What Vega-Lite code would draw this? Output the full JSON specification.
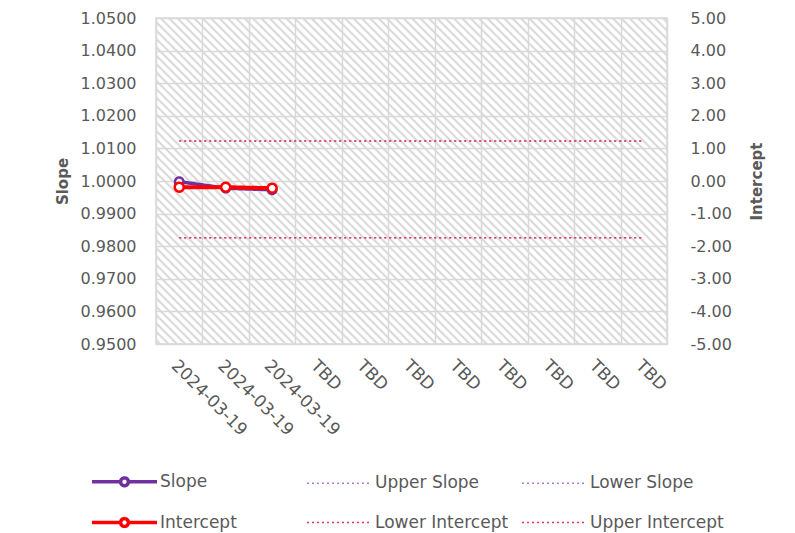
{
  "$schema": "https://vega.github.io/schema/vega-lite/v6.json",
  "width": 511,
  "height": 326,
  "autosize": {"type": "none"},
  "padding": {"left": 156, "top": 18, "right": 128, "bottom": 189},
  "background": "white",
  "config": {
    "font": "DejaVu Sans",
    "view": {
      "stroke": "#d9d9d9",
      "strokeWidth": 1.5,
      "fill": {
        "gradient": "linear", "x1": 0, "y1": 1, "x2": 1.164, "y2": 0.257,
        "stops": [
{"offset":0.002,"color":"#fff"},{"offset":0.005,"color":"#d2d2d2"},{"offset":0.008,"color":"#fff"},
{"offset":0.012,"color":"#fff"},{"offset":0.015,"color":"#d2d2d2"},{"offset":0.018,"color":"#fff"},
{"offset":0.022,"color":"#fff"},{"offset":0.025,"color":"#d2d2d2"},{"offset":0.028,"color":"#fff"},
{"offset":0.032,"color":"#fff"},{"offset":0.035,"color":"#d2d2d2"},{"offset":0.038,"color":"#fff"},
{"offset":0.042,"color":"#fff"},{"offset":0.045,"color":"#d2d2d2"},{"offset":0.048,"color":"#fff"},
{"offset":0.052,"color":"#fff"},{"offset":0.055,"color":"#d2d2d2"},{"offset":0.058,"color":"#fff"},
{"offset":0.062,"color":"#fff"},{"offset":0.065,"color":"#d2d2d2"},{"offset":0.068,"color":"#fff"},
{"offset":0.072,"color":"#fff"},{"offset":0.075,"color":"#d2d2d2"},{"offset":0.078,"color":"#fff"},
{"offset":0.082,"color":"#fff"},{"offset":0.085,"color":"#d2d2d2"},{"offset":0.088,"color":"#fff"},
{"offset":0.092,"color":"#fff"},{"offset":0.095,"color":"#d2d2d2"},{"offset":0.098,"color":"#fff"},
{"offset":0.102,"color":"#fff"},{"offset":0.105,"color":"#d2d2d2"},{"offset":0.108,"color":"#fff"},
{"offset":0.112,"color":"#fff"},{"offset":0.115,"color":"#d2d2d2"},{"offset":0.118,"color":"#fff"},
{"offset":0.122,"color":"#fff"},{"offset":0.125,"color":"#d2d2d2"},{"offset":0.128,"color":"#fff"},
{"offset":0.132,"color":"#fff"},{"offset":0.135,"color":"#d2d2d2"},{"offset":0.138,"color":"#fff"},
{"offset":0.142,"color":"#fff"},{"offset":0.145,"color":"#d2d2d2"},{"offset":0.148,"color":"#fff"},
{"offset":0.152,"color":"#fff"},{"offset":0.155,"color":"#d2d2d2"},{"offset":0.158,"color":"#fff"},
{"offset":0.162,"color":"#fff"},{"offset":0.165,"color":"#d2d2d2"},{"offset":0.168,"color":"#fff"},
{"offset":0.172,"color":"#fff"},{"offset":0.175,"color":"#d2d2d2"},{"offset":0.178,"color":"#fff"},
{"offset":0.182,"color":"#fff"},{"offset":0.185,"color":"#d2d2d2"},{"offset":0.188,"color":"#fff"},
{"offset":0.192,"color":"#fff"},{"offset":0.195,"color":"#d2d2d2"},{"offset":0.198,"color":"#fff"},
{"offset":0.202,"color":"#fff"},{"offset":0.205,"color":"#d2d2d2"},{"offset":0.208,"color":"#fff"},
{"offset":0.212,"color":"#fff"},{"offset":0.215,"color":"#d2d2d2"},{"offset":0.218,"color":"#fff"},
{"offset":0.222,"color":"#fff"},{"offset":0.225,"color":"#d2d2d2"},{"offset":0.228,"color":"#fff"},
{"offset":0.232,"color":"#fff"},{"offset":0.235,"color":"#d2d2d2"},{"offset":0.238,"color":"#fff"},
{"offset":0.242,"color":"#fff"},{"offset":0.245,"color":"#d2d2d2"},{"offset":0.248,"color":"#fff"},
{"offset":0.252,"color":"#fff"},{"offset":0.255,"color":"#d2d2d2"},{"offset":0.258,"color":"#fff"},
{"offset":0.262,"color":"#fff"},{"offset":0.265,"color":"#d2d2d2"},{"offset":0.268,"color":"#fff"},
{"offset":0.272,"color":"#fff"},{"offset":0.275,"color":"#d2d2d2"},{"offset":0.278,"color":"#fff"},
{"offset":0.282,"color":"#fff"},{"offset":0.285,"color":"#d2d2d2"},{"offset":0.288,"color":"#fff"},
{"offset":0.292,"color":"#fff"},{"offset":0.295,"color":"#d2d2d2"},{"offset":0.298,"color":"#fff"},
{"offset":0.302,"color":"#fff"},{"offset":0.305,"color":"#d2d2d2"},{"offset":0.308,"color":"#fff"},
{"offset":0.312,"color":"#fff"},{"offset":0.315,"color":"#d2d2d2"},{"offset":0.318,"color":"#fff"},
{"offset":0.322,"color":"#fff"},{"offset":0.325,"color":"#d2d2d2"},{"offset":0.328,"color":"#fff"},
{"offset":0.332,"color":"#fff"},{"offset":0.335,"color":"#d2d2d2"},{"offset":0.338,"color":"#fff"},
{"offset":0.342,"color":"#fff"},{"offset":0.345,"color":"#d2d2d2"},{"offset":0.348,"color":"#fff"},
{"offset":0.352,"color":"#fff"},{"offset":0.355,"color":"#d2d2d2"},{"offset":0.358,"color":"#fff"},
{"offset":0.362,"color":"#fff"},{"offset":0.365,"color":"#d2d2d2"},{"offset":0.368,"color":"#fff"},
{"offset":0.372,"color":"#fff"},{"offset":0.375,"color":"#d2d2d2"},{"offset":0.378,"color":"#fff"},
{"offset":0.382,"color":"#fff"},{"offset":0.385,"color":"#d2d2d2"},{"offset":0.388,"color":"#fff"},
{"offset":0.392,"color":"#fff"},{"offset":0.395,"color":"#d2d2d2"},{"offset":0.398,"color":"#fff"},
{"offset":0.402,"color":"#fff"},{"offset":0.405,"color":"#d2d2d2"},{"offset":0.408,"color":"#fff"},
{"offset":0.412,"color":"#fff"},{"offset":0.415,"color":"#d2d2d2"},{"offset":0.418,"color":"#fff"},
{"offset":0.422,"color":"#fff"},{"offset":0.425,"color":"#d2d2d2"},{"offset":0.428,"color":"#fff"},
{"offset":0.432,"color":"#fff"},{"offset":0.435,"color":"#d2d2d2"},{"offset":0.438,"color":"#fff"},
{"offset":0.442,"color":"#fff"},{"offset":0.445,"color":"#d2d2d2"},{"offset":0.448,"color":"#fff"},
{"offset":0.452,"color":"#fff"},{"offset":0.455,"color":"#d2d2d2"},{"offset":0.458,"color":"#fff"},
{"offset":0.462,"color":"#fff"},{"offset":0.465,"color":"#d2d2d2"},{"offset":0.468,"color":"#fff"},
{"offset":0.472,"color":"#fff"},{"offset":0.475,"color":"#d2d2d2"},{"offset":0.478,"color":"#fff"},
{"offset":0.482,"color":"#fff"},{"offset":0.485,"color":"#d2d2d2"},{"offset":0.488,"color":"#fff"},
{"offset":0.492,"color":"#fff"},{"offset":0.495,"color":"#d2d2d2"},{"offset":0.498,"color":"#fff"},
{"offset":0.502,"color":"#fff"},{"offset":0.505,"color":"#d2d2d2"},{"offset":0.508,"color":"#fff"},
{"offset":0.512,"color":"#fff"},{"offset":0.515,"color":"#d2d2d2"},{"offset":0.518,"color":"#fff"},
{"offset":0.522,"color":"#fff"},{"offset":0.525,"color":"#d2d2d2"},{"offset":0.528,"color":"#fff"},
{"offset":0.532,"color":"#fff"},{"offset":0.535,"color":"#d2d2d2"},{"offset":0.538,"color":"#fff"},
{"offset":0.542,"color":"#fff"},{"offset":0.545,"color":"#d2d2d2"},{"offset":0.548,"color":"#fff"},
{"offset":0.552,"color":"#fff"},{"offset":0.555,"color":"#d2d2d2"},{"offset":0.558,"color":"#fff"},
{"offset":0.562,"color":"#fff"},{"offset":0.565,"color":"#d2d2d2"},{"offset":0.568,"color":"#fff"},
{"offset":0.572,"color":"#fff"},{"offset":0.575,"color":"#d2d2d2"},{"offset":0.578,"color":"#fff"},
{"offset":0.582,"color":"#fff"},{"offset":0.585,"color":"#d2d2d2"},{"offset":0.588,"color":"#fff"},
{"offset":0.592,"color":"#fff"},{"offset":0.595,"color":"#d2d2d2"},{"offset":0.598,"color":"#fff"},
{"offset":0.602,"color":"#fff"},{"offset":0.605,"color":"#d2d2d2"},{"offset":0.608,"color":"#fff"},
{"offset":0.612,"color":"#fff"},{"offset":0.615,"color":"#d2d2d2"},{"offset":0.618,"color":"#fff"},
{"offset":0.622,"color":"#fff"},{"offset":0.625,"color":"#d2d2d2"},{"offset":0.628,"color":"#fff"},
{"offset":0.632,"color":"#fff"},{"offset":0.635,"color":"#d2d2d2"},{"offset":0.638,"color":"#fff"},
{"offset":0.642,"color":"#fff"},{"offset":0.645,"color":"#d2d2d2"},{"offset":0.648,"color":"#fff"},
{"offset":0.652,"color":"#fff"},{"offset":0.655,"color":"#d2d2d2"},{"offset":0.658,"color":"#fff"},
{"offset":0.662,"color":"#fff"},{"offset":0.665,"color":"#d2d2d2"},{"offset":0.668,"color":"#fff"},
{"offset":0.672,"color":"#fff"},{"offset":0.675,"color":"#d2d2d2"},{"offset":0.678,"color":"#fff"},
{"offset":0.682,"color":"#fff"},{"offset":0.685,"color":"#d2d2d2"},{"offset":0.688,"color":"#fff"},
{"offset":0.692,"color":"#fff"},{"offset":0.695,"color":"#d2d2d2"},{"offset":0.698,"color":"#fff"},
{"offset":0.702,"color":"#fff"},{"offset":0.705,"color":"#d2d2d2"},{"offset":0.708,"color":"#fff"},
{"offset":0.712,"color":"#fff"},{"offset":0.715,"color":"#d2d2d2"},{"offset":0.718,"color":"#fff"},
{"offset":0.722,"color":"#fff"},{"offset":0.725,"color":"#d2d2d2"},{"offset":0.728,"color":"#fff"},
{"offset":0.732,"color":"#fff"},{"offset":0.735,"color":"#d2d2d2"},{"offset":0.738,"color":"#fff"},
{"offset":0.742,"color":"#fff"},{"offset":0.745,"color":"#d2d2d2"},{"offset":0.748,"color":"#fff"},
{"offset":0.752,"color":"#fff"},{"offset":0.755,"color":"#d2d2d2"},{"offset":0.758,"color":"#fff"},
{"offset":0.762,"color":"#fff"},{"offset":0.765,"color":"#d2d2d2"},{"offset":0.768,"color":"#fff"},
{"offset":0.772,"color":"#fff"},{"offset":0.775,"color":"#d2d2d2"},{"offset":0.778,"color":"#fff"},
{"offset":0.782,"color":"#fff"},{"offset":0.785,"color":"#d2d2d2"},{"offset":0.788,"color":"#fff"},
{"offset":0.792,"color":"#fff"},{"offset":0.795,"color":"#d2d2d2"},{"offset":0.798,"color":"#fff"},
{"offset":0.802,"color":"#fff"},{"offset":0.805,"color":"#d2d2d2"},{"offset":0.808,"color":"#fff"},
{"offset":0.812,"color":"#fff"},{"offset":0.815,"color":"#d2d2d2"},{"offset":0.818,"color":"#fff"},
{"offset":0.822,"color":"#fff"},{"offset":0.825,"color":"#d2d2d2"},{"offset":0.828,"color":"#fff"},
{"offset":0.832,"color":"#fff"},{"offset":0.835,"color":"#d2d2d2"},{"offset":0.838,"color":"#fff"},
{"offset":0.842,"color":"#fff"},{"offset":0.845,"color":"#d2d2d2"},{"offset":0.848,"color":"#fff"},
{"offset":0.852,"color":"#fff"},{"offset":0.855,"color":"#d2d2d2"},{"offset":0.858,"color":"#fff"},
{"offset":0.862,"color":"#fff"},{"offset":0.865,"color":"#d2d2d2"},{"offset":0.868,"color":"#fff"},
{"offset":0.872,"color":"#fff"},{"offset":0.875,"color":"#d2d2d2"},{"offset":0.878,"color":"#fff"},
{"offset":0.882,"color":"#fff"},{"offset":0.885,"color":"#d2d2d2"},{"offset":0.888,"color":"#fff"},
{"offset":0.892,"color":"#fff"},{"offset":0.895,"color":"#d2d2d2"},{"offset":0.898,"color":"#fff"},
{"offset":0.902,"color":"#fff"},{"offset":0.905,"color":"#d2d2d2"},{"offset":0.908,"color":"#fff"},
{"offset":0.912,"color":"#fff"},{"offset":0.915,"color":"#d2d2d2"},{"offset":0.918,"color":"#fff"},
{"offset":0.922,"color":"#fff"},{"offset":0.925,"color":"#d2d2d2"},{"offset":0.928,"color":"#fff"},
{"offset":0.932,"color":"#fff"},{"offset":0.935,"color":"#d2d2d2"},{"offset":0.938,"color":"#fff"},
{"offset":0.942,"color":"#fff"},{"offset":0.945,"color":"#d2d2d2"},{"offset":0.948,"color":"#fff"},
{"offset":0.952,"color":"#fff"},{"offset":0.955,"color":"#d2d2d2"},{"offset":0.958,"color":"#fff"},
{"offset":0.962,"color":"#fff"},{"offset":0.965,"color":"#d2d2d2"},{"offset":0.968,"color":"#fff"},
{"offset":0.972,"color":"#fff"},{"offset":0.975,"color":"#d2d2d2"},{"offset":0.978,"color":"#fff"},
{"offset":0.982,"color":"#fff"},{"offset":0.985,"color":"#d2d2d2"},{"offset":0.988,"color":"#fff"},
{"offset":0.992,"color":"#fff"},{"offset":0.995,"color":"#d2d2d2"},{"offset":0.998,"color":"#fff"}
        ]
      }
    },
    "axis": {
      "labelColor": "#595959",
      "titleColor": "#595959",
      "labelFont": "DejaVu Sans",
      "titleFont": "DejaVu Sans",
      "labelFontSize": 16,
      "titleFontSize": 15,
      "titleFontWeight": "bold",
      "gridColor": "#d9d9d9",
      "gridWidth": 1.5,
      "domain": false,
      "ticks": false
    },
    "legend": {
      "labelFont": "DejaVu Sans",
      "labelFontSize": 17,
      "labelColor": "#595959",
      "labelLimit": 400
    }
  },
  "data": {
    "values": [
      {"i": 1, "s": "Slope", "ax": "L", "v": 0.9998},
      {"i": 2, "s": "Slope", "ax": "L", "v": 0.9978},
      {"i": 3, "s": "Slope", "ax": "L", "v": 0.9973},
      {"i": 1, "s": "Upper Slope", "ax": "L", "v": 1.0123},
      {"i": 2, "s": "Upper Slope", "ax": "L", "v": 1.0123},
      {"i": 3, "s": "Upper Slope", "ax": "L", "v": 1.0123},
      {"i": 4, "s": "Upper Slope", "ax": "L", "v": 1.0123},
      {"i": 5, "s": "Upper Slope", "ax": "L", "v": 1.0123},
      {"i": 6, "s": "Upper Slope", "ax": "L", "v": 1.0123},
      {"i": 7, "s": "Upper Slope", "ax": "L", "v": 1.0123},
      {"i": 8, "s": "Upper Slope", "ax": "L", "v": 1.0123},
      {"i": 9, "s": "Upper Slope", "ax": "L", "v": 1.0123},
      {"i": 10, "s": "Upper Slope", "ax": "L", "v": 1.0123},
      {"i": 11, "s": "Upper Slope", "ax": "L", "v": 1.0123},
      {"i": 1, "s": "Lower Slope", "ax": "L", "v": 0.9826},
      {"i": 2, "s": "Lower Slope", "ax": "L", "v": 0.9826},
      {"i": 3, "s": "Lower Slope", "ax": "L", "v": 0.9826},
      {"i": 4, "s": "Lower Slope", "ax": "L", "v": 0.9826},
      {"i": 5, "s": "Lower Slope", "ax": "L", "v": 0.9826},
      {"i": 6, "s": "Lower Slope", "ax": "L", "v": 0.9826},
      {"i": 7, "s": "Lower Slope", "ax": "L", "v": 0.9826},
      {"i": 8, "s": "Lower Slope", "ax": "L", "v": 0.9826},
      {"i": 9, "s": "Lower Slope", "ax": "L", "v": 0.9826},
      {"i": 10, "s": "Lower Slope", "ax": "L", "v": 0.9826},
      {"i": 11, "s": "Lower Slope", "ax": "L", "v": 0.9826},
      {"i": 1, "s": "Intercept", "ax": "R", "v": -0.19},
      {"i": 2, "s": "Intercept", "ax": "R", "v": -0.19},
      {"i": 3, "s": "Intercept", "ax": "R", "v": -0.22},
      {"i": 1, "s": "Lower Intercept", "ax": "R", "v": -1.74},
      {"i": 2, "s": "Lower Intercept", "ax": "R", "v": -1.74},
      {"i": 3, "s": "Lower Intercept", "ax": "R", "v": -1.74},
      {"i": 4, "s": "Lower Intercept", "ax": "R", "v": -1.74},
      {"i": 5, "s": "Lower Intercept", "ax": "R", "v": -1.74},
      {"i": 6, "s": "Lower Intercept", "ax": "R", "v": -1.74},
      {"i": 7, "s": "Lower Intercept", "ax": "R", "v": -1.74},
      {"i": 8, "s": "Lower Intercept", "ax": "R", "v": -1.74},
      {"i": 9, "s": "Lower Intercept", "ax": "R", "v": -1.74},
      {"i": 10, "s": "Lower Intercept", "ax": "R", "v": -1.74},
      {"i": 11, "s": "Lower Intercept", "ax": "R", "v": -1.74},
      {"i": 1, "s": "Upper Intercept", "ax": "R", "v": 1.23},
      {"i": 2, "s": "Upper Intercept", "ax": "R", "v": 1.23},
      {"i": 3, "s": "Upper Intercept", "ax": "R", "v": 1.23},
      {"i": 4, "s": "Upper Intercept", "ax": "R", "v": 1.23},
      {"i": 5, "s": "Upper Intercept", "ax": "R", "v": 1.23},
      {"i": 6, "s": "Upper Intercept", "ax": "R", "v": 1.23},
      {"i": 7, "s": "Upper Intercept", "ax": "R", "v": 1.23},
      {"i": 8, "s": "Upper Intercept", "ax": "R", "v": 1.23},
      {"i": 9, "s": "Upper Intercept", "ax": "R", "v": 1.23},
      {"i": 10, "s": "Upper Intercept", "ax": "R", "v": 1.23},
      {"i": 11, "s": "Upper Intercept", "ax": "R", "v": 1.23}
    ]
  },
  "encoding": {
    "x": {
      "field": "i",
      "type": "ordinal",
      "scale": {"domain": [1, 2, 3, 4, 5, 6, 7, 8, 9, 10, 11], "paddingInner": 0, "paddingOuter": 0},
      "axis": {
        "title": null,
        "labelAngle": 45,
        "labelAlign": "left",
        "labelBaseline": "top",
        "labelPadding": 13,
        "labelFontSize": 17,
        "labelExpr": "datum.value == null ? '' : (datum.value <= 3 ? '2024-03-19' : 'TBD')",
        "tickBand": "extent",
        "grid": true
      }
    }
  },
  "layer": [
    {
      "transform": [{"filter": "datum.ax == 'L'"}],
      "encoding": {
        "y": {
          "field": "v",
          "type": "quantitative",
          "scale": {"domain": [0.95, 1.05], "zero": false, "nice": false},
          "axis": {
            "orient": "left",
            "title": "Slope",
            "format": ".4f",
            "values": [0.95, 0.96, 0.97, 0.98, 0.99, 1.0, 1.01, 1.02, 1.03, 1.04, 1.05],
            "labelPadding": 20,
            "titlePadding": 10,
            "grid": true
          }
        },
        "color": {
          "field": "s",
          "type": "nominal",
          "title": null,
          "scale": {
            "domain": ["Slope", "Upper Slope", "Lower Slope", "Intercept", "Lower Intercept", "Upper Intercept"],
            "range": ["#7030a0", "#a47ce0", "#a47ce0", "#ff0000", "#e8365a", "#e8365a"]
          },
          "legend": {
            "orient": "none",
            "legendX": -40,
            "legendY": 455,
            "columns": 3,
            "direction": "horizontal",
            "gridAlign": "all",
            "columnPadding": 10,
            "rowPadding": 18,
            "symbolSize": 4225,
            "symbolType": {"expr": "(datum.value == 'Slope' || datum.value == 'Intercept') ? 'M-1,0H-0.12A0.12,0.12 0 1,1 0.12,0A0.12,0.12 0 1,1 -0.12,0M0.12,0H1' : 'stroke'"},
            "symbolStrokeWidth": {"expr": "(datum.value == 'Slope' || datum.value == 'Intercept') ? 3.5 : 1.5"},
            "symbolFillColor": "white",
            "labelOffset": 27
          }
        },
        "strokeDash": {
          "field": "s",
          "type": "nominal",
          "title": null,
          "scale": {
            "domain": ["Slope", "Upper Slope", "Lower Slope", "Intercept", "Lower Intercept", "Upper Intercept"],
            "range": [[1, 0], [2, 3], [2, 3], [1, 0], [2, 3], [2, 3]]
          }
        }
      },
      "layer": [
        {
          "transform": [{"filter": "datum.s != 'Slope'"}],
          "mark": {"type": "line", "strokeWidth": 1.5}
        },
        {
          "transform": [{"filter": "datum.s == 'Slope'"}],
          "mark": {"type": "line", "strokeWidth": 3.5}
        },
        {
          "transform": [{"filter": "datum.s == 'Slope'"}],
          "mark": {"type": "point", "shape": "circle", "filled": false, "fill": "white", "fillOpacity": 1, "size": 70, "strokeWidth": 2.5, "stroke": "#7030a0"},
          "encoding": {"color": {"value": "#7030a0"}, "strokeDash": {"value": [1, 0]}}
        }
      ]
    },
    {
      "transform": [{"filter": "datum.ax == 'R'"}],
      "encoding": {
        "y": {
          "field": "v",
          "type": "quantitative",
          "scale": {"domain": [-5, 5], "zero": false, "nice": false},
          "axis": {
            "orient": "right",
            "title": "Intercept",
            "titleAngle": -90,
            "titleBaseline": "top",
            "labelExpr": "replace(format(datum.value, '.2f'), '\u2212', '-')",
            "values": [-5, -4, -3, -2, -1, 0, 1, 2, 3, 4, 5],
            "labelPadding": 23,
            "titlePadding": 18,
            "grid": false
          }
        },
        "color": {"field": "s", "type": "nominal", "title": null},
        "strokeDash": {"field": "s", "type": "nominal", "title": null}
      },
      "layer": [
        {
          "transform": [{"filter": "datum.s != 'Intercept'"}],
          "mark": {"type": "line", "strokeWidth": 1.5}
        },
        {
          "transform": [{"filter": "datum.s == 'Intercept'"}],
          "mark": {"type": "line", "strokeWidth": 4}
        },
        {
          "transform": [{"filter": "datum.s == 'Intercept'"}],
          "mark": {"type": "point", "shape": "circle", "filled": false, "fill": "white", "fillOpacity": 1, "size": 80, "strokeWidth": 2.5, "stroke": "#ff0000"},
          "encoding": {"color": {"value": "#ff0000"}, "strokeDash": {"value": [1, 0]}}
        }
      ]
    }
  ],
  "resolve": {"scale": {"y": "independent"}}
}
